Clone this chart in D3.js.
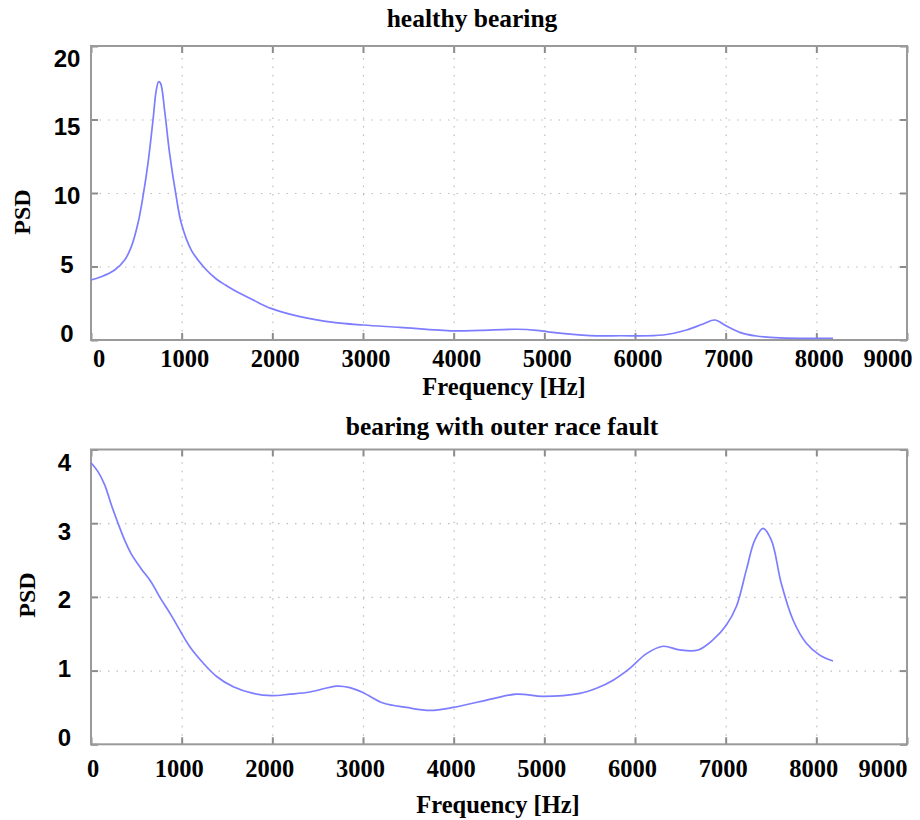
<!DOCTYPE html>
<html>
<head>
<meta charset="utf-8">
<script src="https://cdn.jsdelivr.net/npm/d3@7"></script>
<style>
  body { margin: 0; background: #fff; }
  .grid line { stroke: #bdbdbd; stroke-width: 1.2; stroke-dasharray: 1.5,7; }
  .grid path { display: none; }
  .ticks line { stroke: #8c8c8c; stroke-width: 2; }
  .ticks path { display: none; }
</style>
</head>
<body>
<div id="chart"></div>
<script>
var W = 920, H = 820;

// healthy bearing
var healthyFreq = [0, 114, 261, 371, 445, 518, 573, 628, 684, 720, 746, 768, 812, 867, 940, 996, 1106, 1253, 1382, 1480, 1569, 1790, 1985, 2304, 2672, 3003, 3407, 3995, 4300, 4693, 4914, 5061, 5502, 5832, 6310, 6568, 6751, 6880, 7008, 7155, 7339, 7597, 8184];
var healthyPsd  = [4.08, 4.3, 4.76, 5.44, 6.35, 7.94, 9.75, 12.0, 14.97, 17.0, 17.57, 17.45, 15.6, 12.7, 9.75, 7.94, 6.12, 4.9, 4.15, 3.75, 3.42, 2.72, 2.15, 1.59, 1.2, 1.02, 0.86, 0.62, 0.66, 0.73, 0.66, 0.54, 0.3, 0.29, 0.34, 0.68, 1.09, 1.36, 0.95, 0.52, 0.27, 0.14, 0.12];

// bearing with outer race fault
var faultFreq = [0, 77, 151, 224, 298, 371, 445, 555, 665, 757, 885, 1092, 1239, 1386, 1569, 1790, 1992, 2194, 2415, 2709, 2855, 3003, 3223, 3481, 3738, 3995, 4436, 4693, 4987, 5391, 5575, 5759, 5943, 6127, 6310, 6494, 6696, 6862, 7008, 7118, 7229, 7321, 7412, 7504, 7614, 7742, 7890, 8037, 8184];
var faultPsd  = [3.82, 3.7, 3.52, 3.25, 3.0, 2.77, 2.58, 2.38, 2.2, 2.0, 1.75, 1.32, 1.1, 0.92, 0.78, 0.69, 0.66, 0.68, 0.71, 0.79, 0.77, 0.7, 0.56, 0.5, 0.46, 0.5, 0.62, 0.68, 0.65, 0.69, 0.76, 0.87, 1.03, 1.23, 1.33, 1.28, 1.28, 1.42, 1.62, 1.87, 2.37, 2.77, 2.93, 2.77, 2.18, 1.69, 1.37, 1.21, 1.13];

var xTicks = [0, 1000, 2000, 3000, 4000, 5000, 6000, 7000, 8000, 9000];
var healthyTicks = [0, 5, 10, 15, 20];
var faultTicks = [0, 1, 2, 3, 4];

var serif = "'Liberation Serif', 'Times New Roman', serif";
var sans = "'Liberation Sans', Arial, sans-serif";

var svg = d3.select("#chart").append("svg")
  .attr("width", W)
  .attr("height", H);

function panel(opts) {
  var x = d3.scaleLinear().domain([0, 9000]).range([91, 907]);
  var y = d3.scaleLinear().domain([0, opts.ymax]).range([opts.bottom, opts.top]);
  // tick labels in the picture are not quite on the grid lines
  var yLab = d3.scaleLinear().domain([0, opts.ymax]).range(opts.yLabRange);

  var g = svg.append("g");

  // grid
  g.append("g").attr("class", "grid")
    .attr("transform", "translate(0," + opts.bottom + ")")
    .call(d3.axisBottom(x).tickValues(xTicks.slice(1, -1)).tickSize(-(opts.bottom - opts.top)).tickFormat(""));
  g.append("g").attr("class", "grid")
    .attr("transform", "translate(91,0)")
    .call(d3.axisLeft(y).tickValues(opts.yTicks.slice(1, -1)).tickSize(-(907 - 91)).tickFormat(""));

  // inward tick marks on all four sides
  g.append("g").attr("class", "ticks")
    .attr("transform", "translate(0," + opts.bottom + ")")
    .call(d3.axisBottom(x).tickValues(xTicks).tickSize(-7).tickFormat(""));
  g.append("g").attr("class", "ticks")
    .attr("transform", "translate(0," + opts.top + ")")
    .call(d3.axisTop(x).tickValues(xTicks).tickSize(-7).tickFormat(""));
  g.append("g").attr("class", "ticks")
    .attr("transform", "translate(91,0)")
    .call(d3.axisLeft(y).tickValues(opts.yTicks).tickSize(-7).tickFormat(""));
  g.append("g").attr("class", "ticks")
    .attr("transform", "translate(907,0)")
    .call(d3.axisRight(y).tickValues(opts.yTicks).tickSize(-7).tickFormat(""));

  // frame
  g.append("rect")
    .attr("x", 91)
    .attr("y", opts.top)
    .attr("width", 907 - 91)
    .attr("height", opts.bottom - opts.top)
    .attr("fill", "none")
    .attr("stroke", "#9a9a9a")
    .attr("stroke-width", 2);

  // curve
  var pts = opts.freq.map(function(f, i) { return [f, opts.psd[i]]; });
  var line = d3.line()
    .x(function(d) { return x(d[0]); })
    .y(function(d) { return y(d[1]); })
    .curve(d3.curveCatmullRom.alpha(0.5));
  g.append("path")
    .datum(pts)
    .attr("d", line)
    .attr("fill", "none")
    .attr("stroke", "#7d7dff")
    .attr("stroke-width", 1.7);

  // x tick labels
  g.selectAll(".xl").data(xTicks).enter().append("text")
    .attr("x", function(d) {
      return Math.max(opts.xLabMin, Math.min(opts.xLabMax, x(d) + opts.xLabShift));
    })
    .attr("y", opts.xLabY)
    .attr("text-anchor", "middle")
    .attr("font-family", serif)
    .attr("font-weight", "bold")
    .attr("font-size", "24.5px")
    .attr("fill", "#000")
    .text(function(d) { return d; });

  // y tick labels
  g.selectAll(".yl").data(opts.yTicks).enter().append("text")
    .attr("x", opts.yLabX)
    .attr("y", function(d) { return yLab(d); })
    .attr("dy", "0.36em")
    .attr("text-anchor", opts.yLabAnchor)
    .attr("font-family", sans)
    .attr("font-weight", "bold")
    .attr("font-size", "24px")
    .attr("fill", "#000")
    .text(function(d) { return d; });

  // title
  g.append("text")
    .attr("x", opts.titleX)
    .attr("y", opts.titleY)
    .attr("text-anchor", "middle")
    .attr("font-family", serif)
    .attr("font-weight", "bold")
    .attr("font-size", "25.5px")
    .text(opts.title);

  // axis labels
  g.append("text")
    .attr("x", opts.xTitleX)
    .attr("y", opts.xTitleY)
    .attr("text-anchor", "middle")
    .attr("font-family", serif)
    .attr("font-weight", "bold")
    .attr("font-size", "24.5px")
    .text("Frequency [Hz]");

  g.append("text")
    .attr("transform", "translate(" + opts.yTitleX + "," + opts.yTitleY + ") rotate(-90)")
    .attr("dy", "0.35em")
    .attr("text-anchor", "middle")
    .attr("font-family", serif)
    .attr("font-weight", "bold")
    .attr("font-size", "24px")
    .text("PSD");
}

panel({
  title: "healthy bearing", titleX: 472, titleY: 27,
  freq: healthyFreq, psd: healthyPsd,
  ymax: 20, yTicks: healthyTicks,
  top: 46, bottom: 340,
  yLabRange: [333, 58], yLabX: 67, yLabAnchor: "middle",
  xLabY: 367, xLabShift: 3, xLabMin: 99, xLabMax: 888,
  xTitleX: 504, xTitleY: 395,
  yTitleX: 22, yTitleY: 212
});

panel({
  title: "bearing with outer race fault", titleX: 502, titleY: 435,
  freq: faultFreq, psd: faultPsd,
  ymax: 4, yTicks: faultTicks,
  top: 449.5, bottom: 744.3,
  yLabRange: [737, 462.5], yLabX: 71, yLabAnchor: "end",
  xLabY: 777, xLabShift: -2.5, xLabMin: 93, xLabMax: 883,
  xTitleX: 498, xTitleY: 813,
  yTitleX: 27, yTitleY: 595
});
</script>
</body>
</html>
